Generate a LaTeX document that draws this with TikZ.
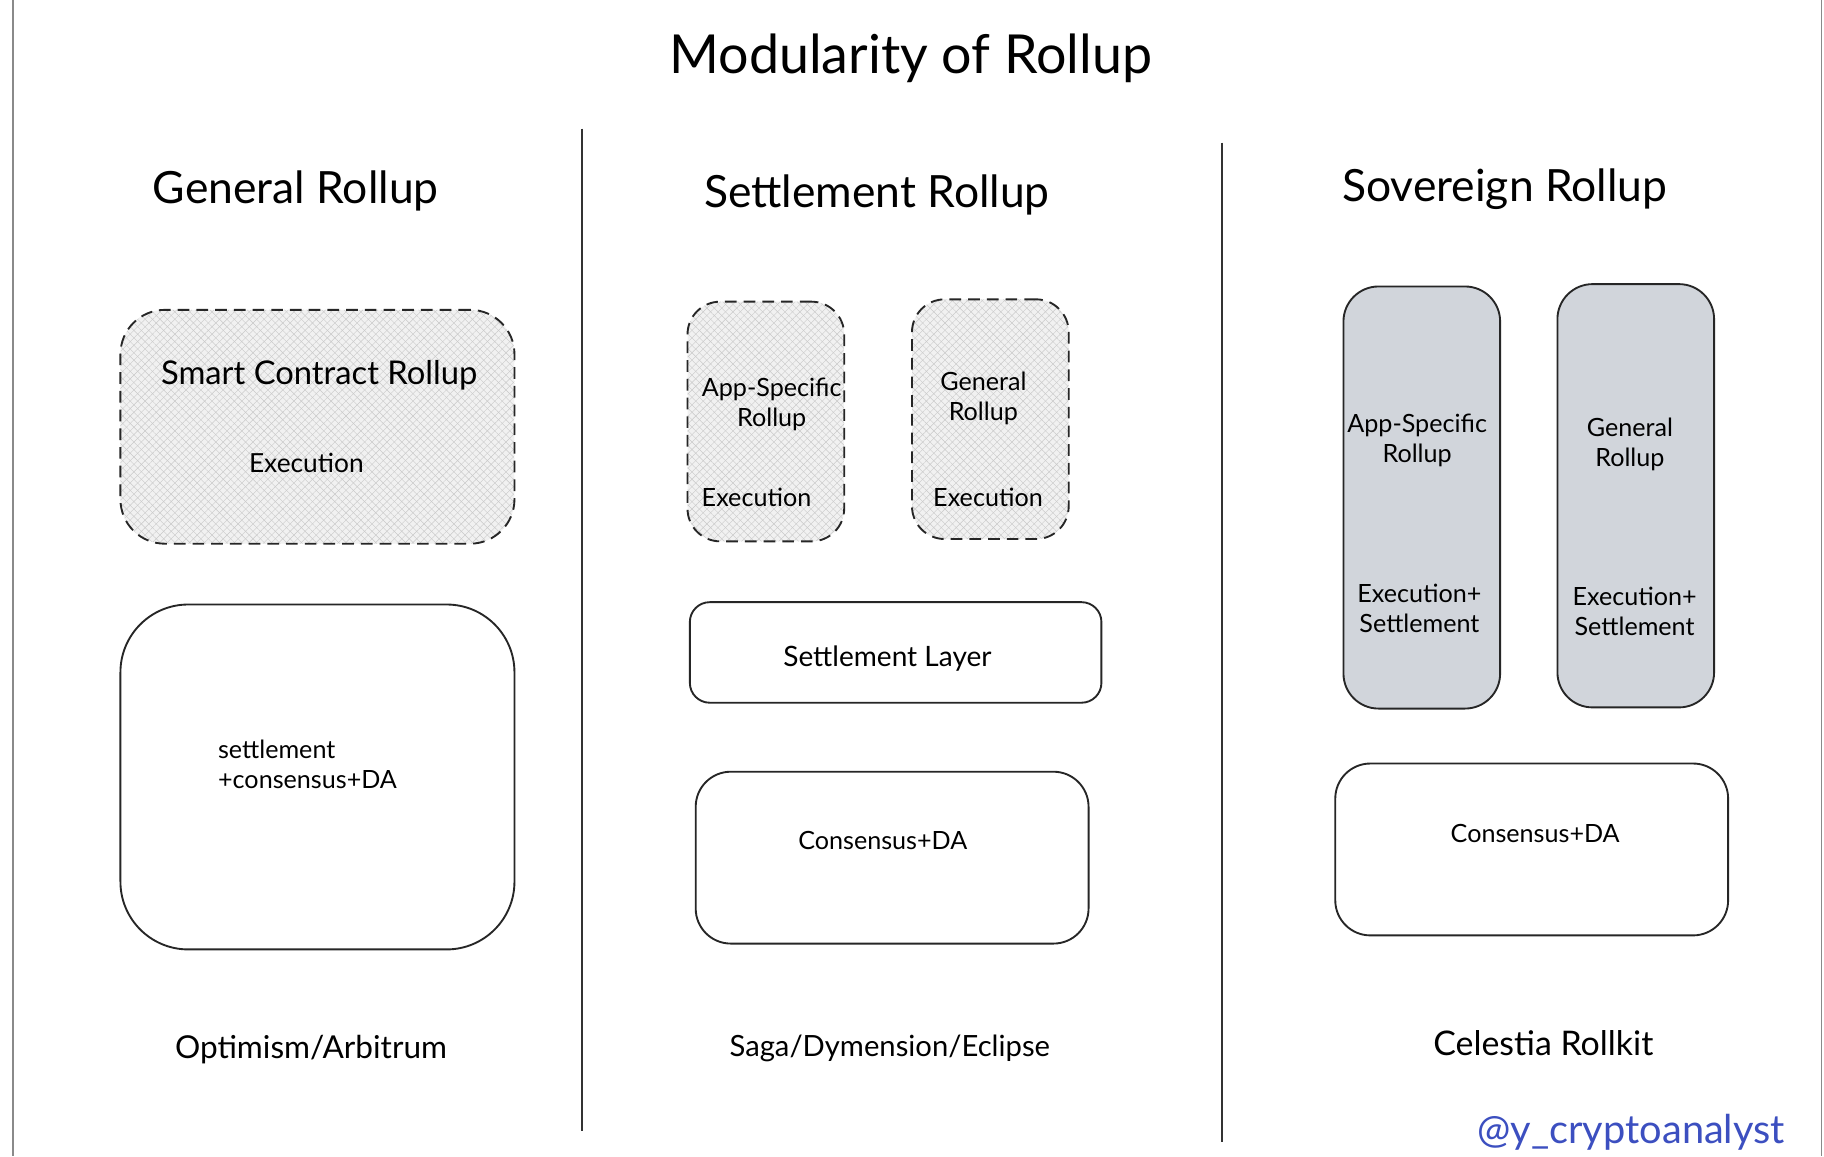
\documentclass[tikz,border=0pt]{standalone}
\usepackage{fontspec}
\setmainfont{Lato}
\usetikzlibrary{patterns.meta}
\definecolor{hatchbg}{HTML}{F1F1F1}
\definecolor{hatchline}{HTML}{C9C9C9}
\definecolor{boxgray}{HTML}{D1D5DB}
\definecolor{framegray}{HTML}{8A8A8A}
\definecolor{tagblue}{HTML}{3C4FC0}
\begin{document}
\begin{tikzpicture}[x=1pt,y=-1pt,
  box/.style={draw=black!85, line width=1.6pt},
  dashbox/.style={box, dash pattern=on 10pt off 6pt,
    preaction={fill=hatchbg},
    preaction={pattern={Lines[angle=45,distance=4.5pt,line width=0.35pt]}, pattern color=hatchline},
    pattern={Lines[angle=-45,distance=4.5pt,line width=0.35pt]}, pattern color=hatchline},
  graybox/.style={box, fill=boxgray},
  solidbox/.style={box, fill=white},
  ttl/.style={font=\fontsize{46}{54}\selectfont},
  head/.style={font=\fontsize{38}{45}\selectfont},
  big/.style={font=\fontsize{28}{33}\selectfont},
  lbl/.style={font=\fontsize{21.5}{25.5}\selectfont, align=center},
  foot/.style={font=\fontsize{27}{32}\selectfont},
  divider/.style={draw=black!80, line width=1.4pt},
  frame/.style={draw=framegray, line width=1.2pt}
]
\useasboundingbox[fill=white] (0,0) rectangle (1560,989);
% frame
\coordinate (fl1) at (11,0); \coordinate (fl2) at (11,989);
\coordinate (fr1) at (1558,0); \coordinate (fr2) at (1558,989);
\draw[frame] (fl1) -- (fl2);
\draw[frame] (fr1) -- (fr2);
% dividers
\coordinate (d1a) at (498,110); \coordinate (d1b) at (498,967);
\coordinate (d2a) at (1045,122); \coordinate (d2b) at (1045,977);
\draw[divider] (d1a) -- (d1b);
\draw[divider] (d2a) -- (d2b);
% title
\node[ttl] (title) at (779,50) {Modularity of Rollup};
% headings
\node[head] (h1) at (253,163) {General Rollup};
\node[head] (h2) at (750,167) {Settlement Rollup};
\node[head] (h3) at (1287,162) {Sovereign Rollup};

% column 1
\node[dashbox, rounded corners=38pt, minimum width=337pt, minimum height=200pt] (scr) at (271.5,365) {};
\node[big] (scrt) at (273,321) {Smart Contract Rollup};
\node[lbl, font=\fontsize{22.5}{26}\selectfont] (scre) at (262,396) {Execution};
\node[solidbox, rounded corners=58pt, minimum width=337pt, minimum height=295pt] (scd) at (271.5,664.5) {};
\node[lbl, align=left, anchor=west] (scdt) at (183,654) {settlement\\+consensus+DA};
\node[foot] (f1) at (266,898) {Optimism/Arbitrum};

% column 2
\node[dashbox, rounded corners=28pt, minimum width=134pt, minimum height=205pt] (asr) at (655,360.5) {};
\node[lbl] (asrt) at (660,346) {App-Specific\\Rollup};
\node[lbl] (asre) at (647,425) {Execution};
\node[dashbox, rounded corners=28pt, minimum width=134pt, minimum height=205pt] (gr) at (847,358.5) {};
\node[lbl] (grt) at (841,341) {General\\Rollup};
\node[lbl] (gre) at (845,425) {Execution};
\node[solidbox, rounded corners=17pt, minimum width=352pt, minimum height=86pt] (sl) at (766,558) {};
\node[lbl, font=\fontsize{24}{28}\selectfont] (slt) at (759,563) {Settlement Layer};
\node[solidbox, rounded corners=30pt, minimum width=336pt, minimum height=147pt] (cda2) at (763,733.5) {};
\node[lbl] (cda2t) at (755,719) {Consensus+DA};
\node[foot, font=\fontsize{25}{30}\selectfont] (f2) at (761,897) {Saga/Dymension/Eclipse};

% column 3
\node[graybox, rounded corners=30pt, minimum width=134pt, minimum height=361pt] (sasr) at (1216,425.5) {};
\node[lbl] (sasrt) at (1212,377) {App-Specific\\Rollup};
\node[lbl] (sasre) at (1214,520) {Execution+\\Settlement};
\node[graybox, rounded corners=30pt, minimum width=134pt, minimum height=362pt] (sgr) at (1399,424) {};
\node[lbl] (sgrt) at (1394,380) {General\\Rollup};
\node[lbl] (sgre) at (1398,523) {Execution+\\Settlement};
\node[solidbox, rounded corners=30pt, minimum width=336pt, minimum height=147pt] (cda3) at (1310,726.5) {};
\node[lbl] (cda3t) at (1313,713) {Consensus+DA};
\node[foot, font=\fontsize{29}{34}\selectfont] (f3) at (1320,892) {Celestia Rollkit};

% tag
\node[foot, text=tagblue, font=\fontsize{34}{40}\selectfont] (tag) at (1395,968) {@y\_cryptoanalyst};
\end{tikzpicture}
\end{document}
